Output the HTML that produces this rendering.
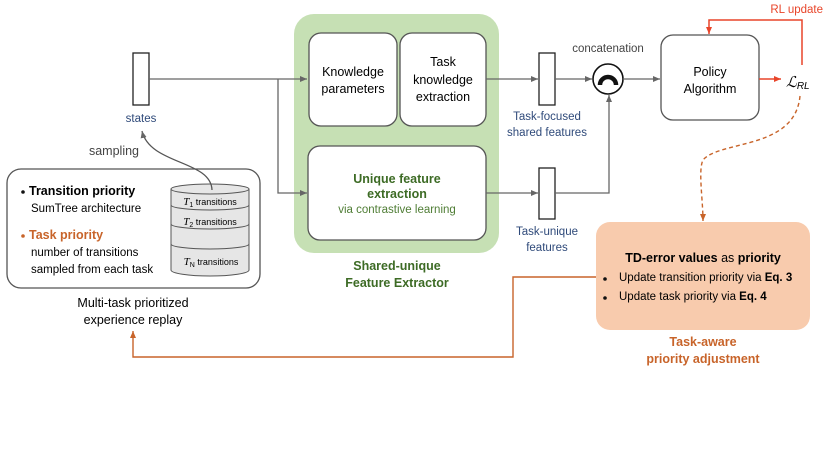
<!DOCTYPE html>
<html><head><meta charset="utf-8"><style>
body{margin:0;background:#fff}
svg text{font-family:"Liberation Sans",sans-serif}
</style></head><body>
<svg width="830" height="467" viewBox="0 0 830 467" xmlns="http://www.w3.org/2000/svg">
<defs>
<marker id="ag" markerWidth="8" markerHeight="8" refX="7" refY="4" orient="auto" markerUnits="userSpaceOnUse"><path d="M0,1 L7,4 L0,7z" fill="#666"/></marker>
<marker id="ar" markerWidth="8" markerHeight="8" refX="7" refY="4" orient="auto" markerUnits="userSpaceOnUse"><path d="M0,1 L7,4 L0,7z" fill="#e8452a"/></marker>
<marker id="ao" markerWidth="8" markerHeight="8" refX="7" refY="4" orient="auto" markerUnits="userSpaceOnUse"><path d="M0,1 L7,4 L0,7z" fill="#c8642a"/></marker>
</defs>
<rect x="294" y="14" width="205" height="239" rx="20" fill="#c6e0b4"/>
<rect x="309" y="33" width="88" height="93" rx="12" fill="#fff" stroke="#555" stroke-width="1.3"/>
<rect x="400" y="33" width="86" height="93" rx="12" fill="#fff" stroke="#555" stroke-width="1.3"/>
<rect x="308" y="146" width="178" height="94" rx="12" fill="#fff" stroke="#555" stroke-width="1.3"/>
<text x="353" y="76" font-size="12.5" text-anchor="middle">Knowledge</text>
<text x="353" y="93" font-size="12.5" text-anchor="middle">parameters</text>
<text x="443" y="66" font-size="12.5" text-anchor="middle">Task</text>
<text x="443" y="84" font-size="12.5" text-anchor="middle">knowledge</text>
<text x="443" y="101" font-size="12.5" text-anchor="middle">extraction</text>
<text x="397" y="183" font-size="12.5" font-weight="bold" fill="#3d6b25" text-anchor="middle">Unique feature</text>
<text x="397" y="198" font-size="12.5" font-weight="bold" fill="#3d6b25" text-anchor="middle">extraction</text>
<text x="397" y="213" font-size="11.5" fill="#4f7d35" text-anchor="middle">via contrastive learning</text>
<text x="397" y="270" font-size="12.5" font-weight="bold" fill="#3d6b25" text-anchor="middle">Shared-unique</text>
<text x="397" y="287" font-size="12.5" font-weight="bold" fill="#3d6b25" text-anchor="middle">Feature Extractor</text>
<rect x="133" y="53" width="16" height="52" fill="#fff" stroke="#222" stroke-width="1.3"/>
<text x="141" y="122" font-size="11.5" fill="#2f4a7a" text-anchor="middle">states</text>
<path d="M149,79 H307" stroke="#666" stroke-width="1.3" fill="none" marker-end="url(#ag)"/>
<path d="M278,79 V193 H307" stroke="#666" stroke-width="1.3" fill="none" marker-end="url(#ag)"/>
<path d="M486,79 H538" stroke="#666" stroke-width="1.3" fill="none" marker-end="url(#ag)"/>
<rect x="539" y="53" width="16" height="52" fill="#fff" stroke="#222" stroke-width="1.3"/>
<text x="547" y="120" font-size="11.5" fill="#2f4a7a" text-anchor="middle">Task-focused</text>
<text x="547" y="136" font-size="11.5" fill="#2f4a7a" text-anchor="middle">shared features</text>
<path d="M555,79 H592" stroke="#666" stroke-width="1.3" fill="none" marker-end="url(#ag)"/>
<path d="M486,193 H538" stroke="#666" stroke-width="1.3" fill="none" marker-end="url(#ag)"/>
<rect x="539" y="168" width="16" height="51" fill="#fff" stroke="#222" stroke-width="1.3"/>
<text x="547" y="235" font-size="11.5" fill="#2f4a7a" text-anchor="middle">Task-unique</text>
<text x="547" y="251" font-size="11.5" fill="#2f4a7a" text-anchor="middle">features</text>
<path d="M555,193 H609 V95" stroke="#666" stroke-width="1.3" fill="none" marker-end="url(#ag)"/>
<circle cx="608" cy="79" r="15" fill="#fff" stroke="#111" stroke-width="1.6"/>
<path d="M600,85 A8,8 0 0 1 616,85" stroke="#111" stroke-width="4.5" fill="none"/>
<text x="608" y="52" font-size="11.5" fill="#444" text-anchor="middle">concatenation</text>
<path d="M623,79 H660" stroke="#666" stroke-width="1.3" fill="none" marker-end="url(#ag)"/>
<rect x="661" y="35" width="98" height="85" rx="12" fill="#fff" stroke="#555" stroke-width="1.3"/>
<text x="710" y="76" font-size="12.5" text-anchor="middle">Policy</text>
<text x="710" y="93" font-size="12.5" text-anchor="middle">Algorithm</text>
<path d="M759,79 H781" stroke="#e8452a" stroke-width="1.5" fill="none" marker-end="url(#ar)"/>
<text x="786" y="87" font-size="15" font-style="italic" font-family="Liberation Serif,serif">ℒ<tspan font-size="10" dy="2">RL</tspan></text>
<path d="M802,65 V20 H709 V34" stroke="#e8452a" stroke-width="1.5" fill="none" marker-end="url(#ar)"/>
<text x="823" y="13" font-size="11.5" fill="#e8452a" text-anchor="end">RL update</text>
<path d="M800,96 C795,150 720,140 703,160 C698,170 703,200 703,221" stroke="#c8642a" stroke-width="1.4" stroke-dasharray="4,3" fill="none" marker-end="url(#ao)"/>
<rect x="596" y="222" width="214" height="108" rx="14" fill="#f8cbad"/>
<text x="703" y="262" font-size="12.5" text-anchor="middle"><tspan font-weight="bold">TD-error values</tspan> as <tspan font-weight="bold">priority</tspan></text>
<circle cx="605" cy="279" r="1.8" fill="#111"/>
<circle cx="605" cy="298" r="1.8" fill="#111"/>
<text x="619" y="281" font-size="11.5">Update transition priority via <tspan font-weight="bold">Eq. 3</tspan></text>
<text x="619" y="300" font-size="11.5">Update task priority via <tspan font-weight="bold">Eq. 4</tspan></text>
<text x="703" y="346" font-size="12.5" font-weight="bold" fill="#c8642a" text-anchor="middle">Task-aware</text>
<text x="703" y="363" font-size="12.5" font-weight="bold" fill="#c8642a" text-anchor="middle">priority adjustment</text>
<path d="M596,277 H513 V357 H133 V331" stroke="#c8642a" stroke-width="1.4" fill="none" marker-end="url(#ao)"/>
<rect x="7" y="169" width="253" height="119" rx="14" fill="#fff" stroke="#555" stroke-width="1.3"/>
<circle cx="23" cy="192" r="1.8" fill="#111"/>
<text x="29" y="195" font-size="12.5" font-weight="bold">Transition priority</text>
<text x="31" y="212" font-size="11.5">SumTree architecture</text>
<circle cx="23" cy="236" r="1.8" fill="#c8642a"/>
<text x="29" y="239" font-size="12.5" font-weight="bold" fill="#c8642a">Task priority</text>
<text x="31" y="256" font-size="11.5">number of transitions</text>
<text x="31" y="273" font-size="11.5">sampled from each task</text>
<text x="133" y="307" font-size="12.5" text-anchor="middle">Multi-task prioritized</text>
<text x="133" y="324" font-size="12.5" text-anchor="middle">experience replay</text>
<path d="M171,189 V270 A39,6 0 0 0 249,270 V189" fill="#e6e6e6" stroke="#555" stroke-width="1"/>
<ellipse cx="210" cy="189" rx="39" ry="5" fill="#e6e6e6" stroke="#555" stroke-width="1"/>
<path d="M171,205 A39,5 0 0 0 249,205 M171,224 A39,5 0 0 0 249,224 M171,244 A39,5 0 0 0 249,244" fill="none" stroke="#555" stroke-width="1"/>
<text x="210" y="205" font-size="9" text-anchor="middle"><tspan font-style="italic" font-family="Liberation Serif,serif" font-size="11">T</tspan><tspan font-size="7" dy="2">1</tspan><tspan dy="-2"> transitions</tspan></text>
<text x="210" y="225" font-size="9" text-anchor="middle"><tspan font-style="italic" font-family="Liberation Serif,serif" font-size="11">T</tspan><tspan font-size="7" dy="2">2</tspan><tspan dy="-2"> transitions</tspan></text>
<text x="211" y="265" font-size="9" text-anchor="middle"><tspan font-style="italic" font-family="Liberation Serif,serif" font-size="11">T</tspan><tspan font-size="7" dy="2">N</tspan><tspan dy="-2"> transitions</tspan></text>
<path d="M212,190 C211,160 150,165 142,131" stroke="#555" stroke-width="1.3" fill="none" marker-end="url(#ag)"/>
<text x="114" y="155" font-size="12.5" fill="#444" text-anchor="middle">sampling</text>
</svg>
</body></html>
